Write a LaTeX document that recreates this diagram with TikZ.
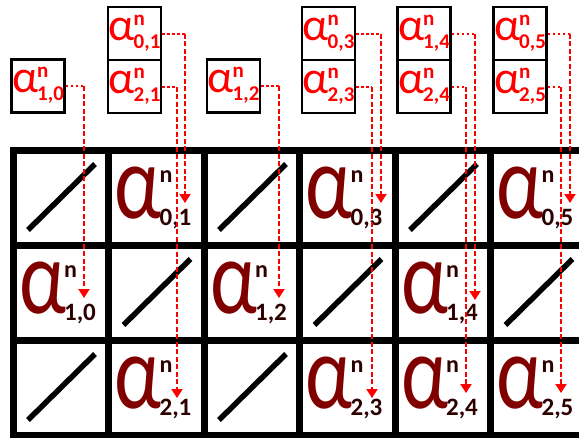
\documentclass[tikz,border=0pt]{standalone}
\usepackage{fontspec}
\setmainfont{Carlito}
\usetikzlibrary{arrows.meta}
\definecolor{alphared}{RGB}{255,0,0}
\definecolor{alphadark}{RGB}{128,0,0}
\definecolor{scriptdark}{RGB}{45,0,0}

% coefficient written inside a grid cell
\newcommand\cellalpha[2]{%
  {\color{alphadark}\fontsize{87}{87}\selectfont\scalebox{0.95}[1.22]{α}}%
  \kern-2pt\rlap{\raisebox{36pt}{\color{scriptdark}\fontsize{24}{24}\selectfont\bfseries n}}%
  \raisebox{-7pt}{\color{scriptdark}\fontsize{25}{25}\selectfont\bfseries #1,#2}}
% coefficient written inside a small source box
\newcommand\boxalpha[2]{%
  {\fontsize{46}{46}\selectfont α}%
  \kern-1pt\rlap{\raisebox{15pt}{\fontsize{21}{21}\selectfont\bfseries n}}%
  \raisebox{-8pt}{\fontsize{21}{21}\selectfont\bfseries #1,#2}}

\tikzset{
  gridline/.style={line width=7pt, line cap=rect},
  slash/.style={line width=5.5pt},
  cellnum/.style={inner sep=0pt, anchor=base west},
  srcbox/.style={draw, line width=2.5pt, minimum width=53pt, minimum height=53pt,
    inner sep=0pt, text=alphared, text height=20pt, text depth=7pt},
  feedh/.style={alphared, line width=2pt, dash pattern=on 2.5pt off 2.5pt},
  feedv/.style={alphared, line width=2pt, dash pattern=on 5pt off 2.5pt,
    -{Triangle[width=11pt,length=9pt]}},
}

\begin{document}
\begin{tikzpicture}[x=1pt,y=-1pt]
\useasboundingbox (0,0) rectangle (579,437);
\clip (0,0) rectangle (579,437);

% grid: column lines at 13 + 95.5k, row lines at 150 + 95r
\foreach \k in {0,...,6}
  \draw[gridline] ({13+95.5*\k},150) -- ({13+95.5*\k},435);
\foreach \r in {0,...,3}
  \draw[gridline] (13,{150+95*\r}) -- (600,{150+95*\r});

% empty cells crossed out
\foreach \c/\r in {0/0,2/0,4/0,1/1,3/1,5/1,0/2,2/2}
  \draw[slash] ({13+95.5*\c+15},{150+95*\r+80}) -- ({13+95.5*\c+82},{150+95*\r+14});

% filled cells
\foreach \c/\r in {1/0,3/0,5/0,0/1,2/1,4/1,1/2,3/2,4/2,5/2}
  \node[cellnum] (a\r\c) at ({13+95.5*\c+6},{150+95*\r+68}) {\cellalpha{\r}{\c}};

% source boxes
\foreach \n/\x/\y/\i/\j in {b10/38/86/1/0, b01/134.5/33.5/0/1, b21/134.5/86.5/2/1,
    b12/233.5/86/1/2, b03/328.5/33.5/0/3, b23/328.5/86.5/2/3,
    b14/424/33.5/1/4, b24/424/86.5/2/4, b05/520/33.5/0/5, b25/520/86.5/2/5}
  \node[srcbox] (\n) at (\x,\y) {\boxalpha{\i}{\j}};

% connectors from each box down into its cell
\foreach \n/\x/\y in {b10/84/298, b01/185/203, b21/177/398, b12/279/298,
    b03/381/203, b23/372/398, b14/475/300, b24/466/393, b05/570/203, b25/561/393} {
  \coordinate (e\n) at (\x,\y);
  \coordinate (k\n) at (\n.east -| e\n);
  \draw[feedh] (\n.east) -- (k\n);
  \draw[feedv] (k\n) -- (e\n);
}
\end{tikzpicture}
\end{document}
